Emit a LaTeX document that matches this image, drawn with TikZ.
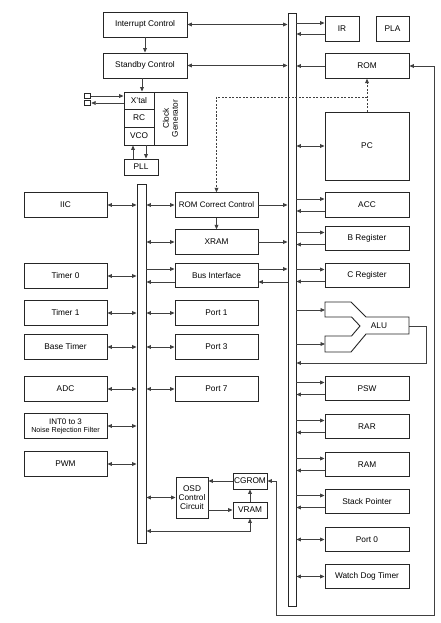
\documentclass[tikz,border=0pt]{standalone}
\usepackage{fontspec}
\setmainfont{Liberation Sans}
\usetikzlibrary{arrows.meta}
\begin{document}
\begin{tikzpicture}[x=1pt,y=-1pt,
  >={Triangle[length=4.5pt,width=3.8pt]},
  box/.style={draw=black!85, line width=0.9pt, fill=white, inner sep=0pt,
    font=\fontsize{8.3}{9}\selectfont, align=center},
  rbox/.style={box, minimum width=84pt, minimum height=24.5pt},
  lbox/.style={box, minimum width=83pt, minimum height=24.5pt},
  ln/.style={draw=black!75, line width=0.8pt},
  dl/.style={ln, <->},
  ar/.style={ln, ->},
  dsh/.style={ln, dashed, dash pattern=on 2pt off 1.5pt}]
\fill[white] (0,0) rectangle (441,623);
\useasboundingbox (0,0) rectangle (441,623);

% buses
\node[box, minimum width=8pt, minimum height=593pt] (rbus) at (292,309.5) {};
\node[box, minimum width=9pt, minimum height=359pt] (lbus) at (141.5,363.5) {};

% top-left control
\node[box, minimum width=84pt, minimum height=25pt] (ic) at (145,24.5) {Interrupt Control};
\node[box, minimum width=84pt, minimum height=25pt] (sc) at (145,65.5) {Standby Control};

% clock generator
\node[box, minimum width=30pt, minimum height=17pt] (xtal) at (139,100.5) {X'tal};
\node[box, minimum width=30pt, minimum height=18pt] (rc) at (139,118) {RC};
\node[box, minimum width=30pt, minimum height=18pt] (vco) at (139,136) {VCO};
\node[box, minimum width=53pt, minimum height=33pt, rotate=90] (cg) at (170.5,118.5) {Clock\\Generator};
\node[box, minimum width=34pt, minimum height=16pt] (pll) at (141,167) {PLL};
\node[box, minimum width=6.5pt, minimum height=5.5pt] (sq1) at (87.5,96) {};
\node[box, minimum width=6.5pt, minimum height=5.5pt] (sq2) at (87.5,103) {};

% right column
\node[box, minimum width=34pt, minimum height=25pt] (ir) at (342,28.5) {IR};
\node[box, minimum width=33pt, minimum height=25pt] (pla) at (392.5,28.5) {PLA};
\node[rbox] (rom) at (367,66) {ROM};
\node[box, minimum width=84pt, minimum height=68pt] (pc) at (367,146) {PC};
\node[rbox] (acc) at (367,205) {ACC};
\node[rbox] (breg) at (367,238.5) {B Register};
\node[rbox] (creg) at (367,275.5) {C Register};
\draw[draw=black!85, line width=0.9pt] (325,302) -- (351,302) -- (366,317) -- (409,317)
  -- (409,334) -- (366,334) -- (351,352) -- (325,352) -- (325,336) -- (351.5,336)
  -- (360,326) -- (351.5,317) -- (325,317) -- cycle;
\node[font=\fontsize{8.3}{9}\selectfont, inner sep=0pt] (alu) at (379,325.5) {ALU};
\node[rbox] (psw) at (367,388.5) {PSW};
\node[rbox] (rar) at (367,426.5) {RAR};
\node[rbox] (ram) at (367,464.5) {RAM};
\node[rbox] (sp) at (367,501.5) {Stack Pointer};
\node[rbox] (p0) at (367,539.5) {Port 0};
\node[rbox] (wdt) at (367,576.5) {Watch Dog Timer};

% left column
\node[lbox] (iic) at (65.5,205) {IIC};
\node[lbox] (t0) at (65.5,276) {Timer 0};
\node[lbox] (t1) at (65.5,313) {Timer 1};
\node[lbox] (bt) at (65.5,347) {Base Timer};
\node[lbox] (adc) at (65.5,389) {ADC};
\node[lbox, font=\fontsize{7.2}{8}\selectfont] (int) at (65.5,426) {\fontsize{8}{8}\selectfont INT0 to 3\\Noise Rejection Filter};
\node[lbox] (pwm) at (65.5,464) {PWM};

% middle column
\node[lbox] (rcc) at (216.5,205) {\fontsize{8}{9}\selectfont ROM Correct Control};
\node[lbox] (xram) at (216.5,242) {XRAM};
\node[lbox] (bif) at (216.5,275.5) {Bus Interface};
\node[lbox] (p1) at (216.5,313) {Port 1};
\node[lbox] (p3) at (216.5,347) {Port 3};
\node[lbox] (p7) at (216.5,389) {Port 7};

% OSD
\node[box, minimum width=32pt, minimum height=41pt] (osd) at (192,497.5) {OSD\\Control\\Circuit};
\node[box, minimum width=34pt, minimum height=16pt] (cgrom) at (250,481) {CGROM};
\node[box, minimum width=34pt, minimum height=16pt] (vram) at (250,510) {VRAM};

% ---- connectors, top left
\draw[dl] (ic.east) -- (ic.east -| rbus.west);
\draw[dl] (sc.east) -- (sc.east -| rbus.west);
\draw[ar] (ic.south) -- (sc.south |- sc.north);
\coordinate (k1) at ([xshift=3pt]xtal.north);
\draw[ar] (k1 |- sc.south) -- (k1);
\draw[ar] (sq1.east) -- (sq1.east -| xtal.west);
\draw[ar] (sq2.east -| xtal.west) -- (sq2.east);
\coordinate (k2) at (133,0);
\coordinate (k3) at (146,0);
\draw[ar] (k2 |- pll.north) -- (k2 |- vco.south);
\draw[ar] (k3 |- vco.south) -- (k3 |- pll.north);

% ---- right column
\draw[ar] ([yshift=5.5pt]ir.west -| rbus.east) -- ([yshift=5.5pt]ir.west);
\draw[ar] ([yshift=-5.5pt]ir.west) -- ([yshift=-5.5pt]ir.west -| rbus.east);
\draw[ar] (rom.west) -- (rom.west -| rbus.east);
\draw[dl] (pc.west -| rbus.east) -- (pc.west);
\foreach \n in {acc,breg,creg,psw,rar,ram,sp}{
  \draw[ar] ([yshift=6pt]\n.west -| rbus.east) -- ([yshift=6pt]\n.west);
  \draw[ar] ([yshift=-6pt]\n.west) -- ([yshift=-6pt]\n.west -| rbus.east);
}
\draw[dl] (p0.west -| rbus.east) -- (p0.west);
\draw[dl] (wdt.west -| rbus.east) -- (wdt.west);
\coordinate (alu1) at (325,310);
\coordinate (alu2) at (325,344);
\draw[ar] (alu1 -| rbus.east) -- (alu1);
\draw[ar] (alu2 -| rbus.east) -- (alu2);
\coordinate (aluo) at (409,326);
\draw[ar] (aluo) -- (426,326) -- (426,363) -- (rbus.east |- 0,363);

% ROM <-> CGROM long line
\draw[dl] (rom.east) -- (434,66) -- (434,615) -- (276,615) -- (276,481) -- (cgrom.east);

% dashed PC -> ROM -> ROM Correct Control
\draw[dsh, ->] (pc.north) -- (rom.south);
\coordinate (j) at (367,97);
\draw[dsh, ->] (j) -- (j -| rcc.north) -- (rcc.north);

% ---- left column
\foreach \n in {iic,t0,t1,bt,adc,int,pwm}{
  \draw[dl] (\n.east) -- (\n.east -| lbus.west);
}
\foreach \n in {rcc,xram,p1,p3,p7}{
  \draw[dl] (\n.west -| lbus.east) -- (\n.west);
}
\draw[ar] (rcc.east) -- (rcc.east -| rbus.west);
\draw[ar] (xram.east) -- (xram.east -| rbus.west);
\draw[ar] (rcc.south) -- (xram.north);
\draw[ar] ([yshift=6.5pt]bif.west -| lbus.east) -- ([yshift=6.5pt]bif.west);
\draw[ar] ([yshift=-6.5pt]bif.west) -- ([yshift=-6.5pt]bif.west -| lbus.east);
\draw[ar] ([yshift=6.5pt]bif.east) -- ([yshift=6.5pt]bif.east -| rbus.west);
\draw[ar] ([yshift=-6.5pt]bif.east -| rbus.west) -- ([yshift=-6.5pt]bif.east);

% ---- OSD
\draw[dl] (osd.west -| lbus.east) -- (osd.west);
\draw[ar] (cgrom.west) -- (cgrom.west -| osd.east);
\draw[ar] (vram.west -| osd.east) -- (vram.west);
\draw[ar] (vram.north) -- (cgrom.south);
\coordinate (v1) at (250,531);
\draw[dl] (v1 -| lbus.east) -- (v1) -- (vram.south);
\end{tikzpicture}
\end{document}
